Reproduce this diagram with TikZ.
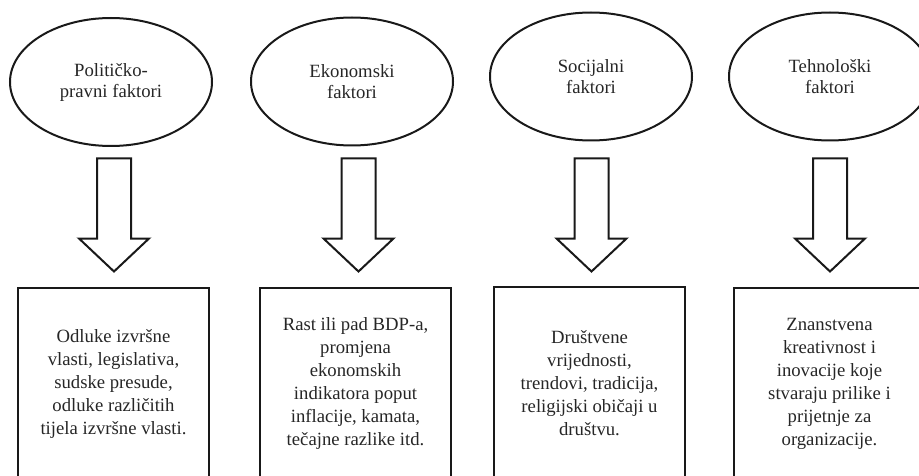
\documentclass[tikz,border=0pt]{standalone}
\usepackage{fontspec}
\setmainfont{Liberation Serif}
\usetikzlibrary{shapes.geometric}
\begin{document}
\begin{tikzpicture}[x=1pt,y=-1pt,
  ell/.style={draw=black!90, ellipse, line width=2pt, minimum width=202pt, minimum height=128pt, inner sep=0pt, align=center, text=black!85, font=\fontsize{18.7}{21}\selectfont},
  txtbox/.style={draw=black!90, rectangle, line width=2pt, minimum width=191pt, minimum height=192pt, inner sep=0pt, align=center, text=black!85, font=\fontsize{18.7}{23}\selectfont},
  blockarrow/.pic={\draw[draw=black!90, line width=2pt, line join=miter] (-17,0) -- (17,0) -- (17,80) -- (35,80) -- (0,113) -- (-35,80) -- (-17,80) -- cycle;}
]
\useasboundingbox (0,0) rectangle (919,476);

\node[ell] (e1) at (111,82) {Političko-\\pravni faktori};
\node[ell] (e2) at (352,81.5) {Ekonomski\\faktori};
\node[ell] (e3) at (591,76.5) {Socijalni\\faktori};
\node[ell] (e4) at (830,76.5) {Tehnološki\\faktori};

\pic at (114,158.5) {blockarrow};
\pic at (358.5,158.5) {blockarrow};
\pic at (591.5,158.5) {blockarrow};
\pic at (830,158.5) {blockarrow};

\node[txtbox] (b1) at (113.5,384) {Odluke izvršne\\vlasti, legislativa,\\sudske presude,\\odluke različitih\\tijela izvršne vlasti.};
\node[txtbox] (b2) at (355.5,384) {Rast ili pad BDP-a,\\promjena\\ekonomskih\\indikatora poput\\inflacije, kamata,\\tečajne razlike itd.};
\node[txtbox] (b3) at (589.5,383) {Društvene\\vrijednosti,\\trendovi, tradicija,\\religijski običaji u\\društvu.};
\node[txtbox] (b4) at (829.5,384) {Znanstvena\\kreativnost i\\inovacije koje\\stvaraju prilike i\\prijetnje za\\organizacije.};
\end{tikzpicture}
\end{document}
